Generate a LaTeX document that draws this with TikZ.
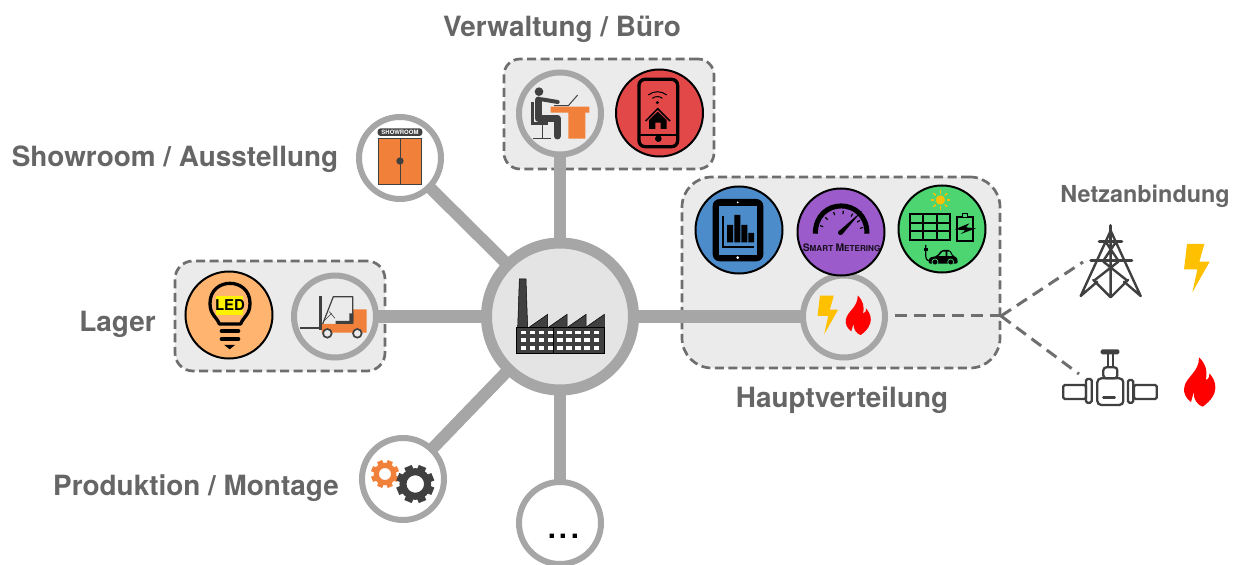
\documentclass[tikz,border=0pt]{standalone}
\usepackage{fontspec}
\setmainfont{TeX Gyre Heros}
\definecolor{linegray}{HTML}{A6A6A6}
\definecolor{boxfill}{HTML}{EBEBEB}
\definecolor{hubfill}{HTML}{E4E4E4}
\definecolor{boxedge}{HTML}{6E6E6E}
\definecolor{labelgray}{HTML}{666666}
\definecolor{icondark}{HTML}{404040}
\definecolor{iconorange}{HTML}{F0803A}
\definecolor{boltyellow}{HTML}{FFC000}
\definecolor{phonered}{HTML}{E34848}
\definecolor{tabletblue}{HTML}{4C8CCB}
\definecolor{meterpurple}{HTML}{9C5BCB}
\definecolor{solargreen}{HTML}{4CD571}
\definecolor{ledorange}{HTML}{FFB56F}
\tikzset{
  zoomed/.style 2 args={shift={(#1,#2)},scale=1/3},
  groupbox/.style={draw=boxedge,fill=boxfill,line width=2.7bp,dash pattern=on 9bp off 4.5bp,inner sep=0pt},
  ringnode/.style={circle,draw=linegray,line width=6bp,minimum size=82bp,inner sep=0pt},
  coloured/.style={circle,draw=black,line width=2bp,minimum size=87bp,inner sep=0pt,fill=#1},
  spoke/.style={draw=linegray,line width=12bp,shorten <=-1bp,shorten >=-1bp},
  dashlink/.style={draw=boxedge,line width=3bp,dash pattern=on 12bp off 7bp},
  grouplabel/.style={font=\fontsize{28}{30}\selectfont\bfseries,text=labelgray,inner sep=0pt},
}
\newcommand{\myflame}[3]{\begin{scope}[shift={(#1,#2)},scale=#3/3]
  \fill[red] (-6,-74) .. controls (15,-55) and (20,-30) .. (14,-6)
   .. controls (25,-10) and (27,-20) .. (25,-26)
   .. controls (45,-5) and (60,35) .. (5,74)
   .. controls (-10,70) and (-25,50) .. (-21,30)
   .. controls (-25,42) and (-28,52) .. (-30,60)
   .. controls (-45,50) and (-55,30) .. (-50,15)
   .. controls (-45,-15) and (-5,-30) .. (-6,-74) -- cycle;
\end{scope}}
\newcommand{\mybolt}[3]{\begin{scope}[shift={(#1,#2)},scale=#3/3]
  \fill[boltyellow] (-29,-73) -- (23,-73) -- (8,-20) -- (39,-20) -- (-13,72) -- (2,3) -- (-38,3) -- cycle;
\end{scope}}
% centre x, centre y, ring mid radius, ring width, tooth outer radius, tooth width, colour
\newcommand{\mygear}[7]{\begin{scope}[shift={(#1,#2)},scale=1/3]
  \draw[#7,line width=#4bp] (0,0) circle[radius=#3];
  \foreach \a in {0,45,...,315}{\draw[#7,line width=#6bp] (\a+22.5:#3) -- (\a+22.5:#5);}
\end{scope}}
\begin{document}
\begin{tikzpicture}[x=1bp,y=-1bp]
\useasboundingbox (0,0) rectangle (1239,565);
% group boxes
\node[groupbox,rounded corners=16bp,minimum width=210bp,minimum height=110bp] (boxbuero) at (609,114) {};
\node[groupbox,rounded corners=30bp,minimum width=318bp,minimum height=191bp] (boxhaupt) at (841,272.5) {};
\node[groupbox,rounded corners=18bp,minimum width=210bp,minimum height=110bp] (boxlager) at (280,316) {};
% round nodes
\node[circle,draw=linegray,fill=hubfill,line width=11bp,minimum size=147bp,inner sep=0pt] (hub) at (560,316.5) {};
\node[ringnode,fill=white] (show) at (400,158) {};
\node[ringnode,fill=boxfill] (desk) at (560,113.5) {};
\node[ringnode,fill=boxfill] (fork) at (335,316.5) {};
\node[ringnode,fill=boxfill] (energy) at (844,316.5) {};
\node[ringnode,fill=white] (prod) at (403,479) {};
\node[ringnode,fill=white] (more) at (560,523) {};
\node[coloured=phonered] (phone) at (659.5,113) {};
\node[coloured=tabletblue] (tablet) at (739,230) {};
\node[coloured=meterpurple] (meter) at (841,232) {};
\node[coloured=solargreen] (solar) at (942,229) {};
\node[coloured=ledorange] (led) at (229,315) {};
% spokes
\foreach \t in {show,desk,fork,energy,prod,more}{\draw[spoke] (hub) -- (\t);}
% dashed links
\coordinate (dashstart) at (895,316);
\coordinate (junction) at (1001,316);
\coordinate (pylonend) at (1083,262);
\coordinate (valveend) at (1079,374);
\draw[dashlink] (dashstart) -- (junction);
\draw[dashlink] (junction) -- (pylonend);
\draw[dashlink] (junction) -- (valveend);
% labels
\node[grouplabel] (lbuero) at (562,29) {Verwaltung / Büro};
\node[grouplabel] (lshow) at (175,159) {Showroom / Ausstellung};
\node[grouplabel] (llager) at (117.5,324) {Lager};
\node[grouplabel] (lprod) at (196,488) {Produktion / Montage};
\node[grouplabel] (lhaupt) at (842,400) {Hauptverteilung};
\node[font=\fontsize{23.5}{26}\selectfont\bfseries,text=labelgray,inner sep=0pt] (lnetz) at (1145,196) {Netzanbindung};
\node[font=\fontsize{42}{44}\selectfont,anchor=base,inner sep=0pt] (ldots) at (563.7,538) {...};
% factory
\begin{scope}[zoomed={480}{235}]
  \fill[icondark,draw=black,line width=.5bp] (118,132) -- (138,132) -- (143,277) -- (113,277) -- cycle;
  \foreach \x in {147,205,262,317}{\fill[icondark,draw=black,line width=.5bp] (\x,277) -- (\x+56,238) -- (\x+56,277) -- cycle;}
  \fill[icondark,draw=black,line width=.7bp] (109,277) rectangle (372,355);
  \draw[black,line width=.5bp] (221,277) -- (221,355);
  \foreach \y in {293,316,339}{\foreach \x in {130,157,184,211,240,267,294,321,349}{\fill[white] (\x-8,\y-5.5) rectangle (\x+8,\y+5.5);}}
\end{scope}
% person at desk
\begin{scope}[zoomed={480}{40}]
  \fill[iconorange] (212,200) -- (328,200) -- (328,218) -- (316,218) -- (316,296) -- (265,296) -- (265,218) -- (212,218) -- cycle;
  \fill[icondark] (177,155) circle[radius=13];
  \draw[icondark,line width=7bp,line join=round,line cap=round] (175,180) -- (175,235) -- (232,235) -- (232,288);
  \draw[icondark,line width=4bp,line cap=round] (185,178) -- (233,186);
  \draw[icondark,line width=2.5bp] (158,185) -- (158,250) -- (205,250);
  \draw[icondark,line width=1.5bp] (187,250) -- (187,295) (160,295) -- (213,295);
  \draw[icondark,line width=1bp] (222,197) -- (265,197) -- (293,165);
\end{scope}
% phone
\begin{scope}[zoomed={480}{40}]
  \draw[black,line width=3.3bp,rounded corners=6bp] (477,118) rectangle (593,320);
  \draw[black,line width=1.3bp] (477,285) -- (593,285);
  \fill[black] (535,296) circle[radius=10];
  \fill[black] (532,188) circle[radius=5];
  \draw[black,line width=1bp] (517,175) .. controls (525,168) and (540,168) .. (547,175);
  \draw[black,line width=1bp] (505,165) .. controls (520,152) and (545,152) .. (560,165);
  \draw[black,line width=1.5bp] (497,243) -- (533,206) -- (570,243);
  \fill[black] (507,240) -- (533,215) -- (560,240) -- (560,267) -- (542,267) -- (542,248) -- (526,248) -- (526,267) -- (507,267) -- cycle;
\end{scope}
% tablet, meter, solar
\begin{scope}[zoomed={680}{170}]
  \fill[black,rounded corners=7bp] (98,87) rectangle (250,274);
  \fill[tabletblue] (118,107) rectangle (232,254);
  \fill[white] (173,97) circle[radius=3];
  \fill[white] (173,263) circle[radius=4.5];
  \draw[black,line width=1.7bp] (128,137) -- (128,230) -- (222,230);
  \fill[black] (141,165) rectangle (159,217) (163,135) rectangle (181,217) (184,165) rectangle (202,217) (205,189) rectangle (222,217);
  % meter
  \draw[black,line width=5bp] (406,191) .. controls (406,80) and (561,80) .. (561,191);
  \begin{scope}[shift={(484,190)}]
    \foreach \a in {200,225,250,275,300,325,345}{\draw[black,line width=1.2bp] (\a:58) -- (\a:68);}
  \end{scope}
  \fill[black] (476,184) -- (546,123) -- (486,194) -- cycle;
  \fill[black] (481,188) circle[radius=7];
  \node[font=\bfseries,text=black!85!meterpurple,inner sep=0pt] (smart) at (485,232) {\fontsize{10.4}{10}\selectfont S\fontsize{8.2}{10}\selectfont MART \fontsize{10.4}{10}\selectfont M\fontsize{8.2}{10}\selectfont ETERING};
  % sun
  \begin{scope}[shift={(781,90)}]
    \fill[boltyellow] (0,0) circle[radius=14];
    \foreach \a in {0,45,...,315}{\draw[boltyellow,line width=1.4bp] (\a:19) -- (\a:29);}
  \end{scope}
  % panel
  \draw[black,line width=2.8bp] (690,132) rectangle (810,210);
  \draw[black,line width=2.2bp] (730,132) -- (730,210) (770,132) -- (770,210) (690,158) -- (810,158) (690,184) -- (810,184);
  % battery
  \draw[black,line width=2bp] (832,140) rectangle (878,214);
  \fill[black] (846,128) rectangle (864,140);
  \fill[solargreen] (850,133) rectangle (860,140);
  \fill[solargreen] (826,158) rectangle (884,196);
  \draw[black,line width=2bp] (832,196) -- (832,158) (878,196) -- (878,158);
  \fill[black] (824,178) -- (868,160) -- (858,172) -- (888,175) -- (842,192) -- (856,181) -- cycle;
  % plug and car
  \draw[black,line width=1.2bp] (737,225) -- (737,250) .. controls (737,268) and (740,272) .. (750,272);
  \fill[black] (731,233) rectangle (743,243);
  \fill[black,rounded corners=1.5bp] (745,281) -- (748,263) -- (770,258) -- (785,240) -- (810,240) -- (820,258) -- (832,263) -- (833,281) -- cycle;
  \fill[solargreen] (776,258) -- (788,245) -- (797,245) -- (797,258) -- cycle (802,245) -- (809,245) -- (816,258) -- (802,258) -- cycle;
  \foreach \x in {765,812}{\fill[black,draw=solargreen,line width=.7bp] (\x,276) circle[radius=9];}
\end{scope}
% energy icons
\mybolt{827.7}{315}{0.8}
\myflame{859.3}{315.3}{0.8}
\mybolt{1196.7}{268.3}{1}
\myflame{1201}{382}{1}
% pylon and valve
\begin{scope}[zoomed={1040}{210}]
  \draw[icondark,line width=2.4bp,line cap=round,line join=round]
    (212,62) -- (122,258) (212,62) -- (302,258) (212,100) -- (212,260)
    (200,100) -- (235,152) (225,100) -- (190,152)
    (190,155) -- (262,212) (235,155) -- (162,212)
    (160,210) -- (212,262) -- (264,210)
    (122,258) -- (172,215) (302,258) -- (252,215);
  \draw[icondark,line width=3.6bp,line cap=round] (212,47) -- (212,95) (178,95) -- (245,95) (153,152) -- (275,152);
  % valve
  \draw[icondark,line width=2.3bp,rounded corners=1.5bp] (70,525) rectangle (138,567);
  \draw[icondark,line width=2.3bp,rounded corners=1.5bp] (282,525) rectangle (350,567);
  \draw[icondark,line width=2.3bp,rounded corners=1.5bp] (138,507) rectangle (155,578);
  \draw[icondark,line width=2.3bp,rounded corners=1.5bp] (264,510) rectangle (280,578);
  \draw[icondark,line width=2.3bp,rounded corners=3bp] (190,472) rectangle (232,505);
  \draw[icondark,line width=2.3bp,rounded corners=4bp] (172,505) rectangle (250,585);
  \draw[icondark,line width=1.8bp] (205,432) -- (205,472) (218,432) -- (218,472);
  \fill[icondark,rounded corners=1.5bp] (182,418) rectangle (238,433);
  \draw[icondark,line width=2.5bp,line cap=round] (190,562) -- (224,562);
\end{scope}
% forklift and LED
\begin{scope}[zoomed={170}{250}]
  \fill[iconorange] (455,222) -- (495,222) -- (548,215) -- (548,178) -- (590,178) -- (590,248) -- (455,248) -- cycle;
  \fill[icondark] (447,138) rectangle (456,240);
  \fill[icondark] (390,231) rectangle (455,237);
  \draw[icondark,line width=1.2bp,line join=round] (458,222) -- (490,140) -- (548,140) -- (548,215);
  \fill[icondark] (497,213) -- (538,213) -- (538,190) -- (550,190) -- (550,222) -- (497,222) -- cycle;
  \draw[icondark,line width=.6bp] (478,185) -- (495,205) (460,215) -- (485,190);
  \foreach \x in {472,562}{\fill[boxfill,draw=icondark,line width=1.7bp] (\x,250) circle[radius=13];}
  % LED
  \fill[yellow] (138,138) rectangle (220,194);
  \draw[black,line width=3.3bp,line join=round] (148,222) .. controls (140,200) and (120,195) .. (120,160)
     .. controls (120,80) and (240,80) .. (240,160) .. controls (240,195) and (220,200) .. (212,222) -- cycle;
  \node[font=\fontsize{15}{15}\selectfont\bfseries,text=black,inner sep=0pt] (ledtext) at (180,166) {LED};
  \draw[black,line width=4bp,line cap=round] (155,243) -- (205,243) (155,267) -- (205,267);
  \fill[black] (163,285) -- (195,285) -- (179,298) -- cycle;
\end{scope}
% showroom
\begin{scope}[zoomed={350}{120}]
  \fill[icondark,rounded corners=3bp] (83,25) rectangle (217,48);
  \node[font=\fontsize{6}{6}\selectfont\bfseries,text=white,inner sep=0pt] (showtext) at (150,37) {SHOWROOM};
  \fill[iconorange,draw=icondark,line width=.8bp] (85,56) rectangle (215,192);
  \draw[icondark,line width=1bp] (150,56) -- (150,192);
  \fill[icondark] (150,123) circle[radius=11];
\end{scope}
% gears
\mygear{385}{474}{26}{5.2}{42}{5.5}{iconorange}
\mygear{415.3}{484}{37}{7}{57}{8}{icondark}
\end{tikzpicture}
\end{document}
